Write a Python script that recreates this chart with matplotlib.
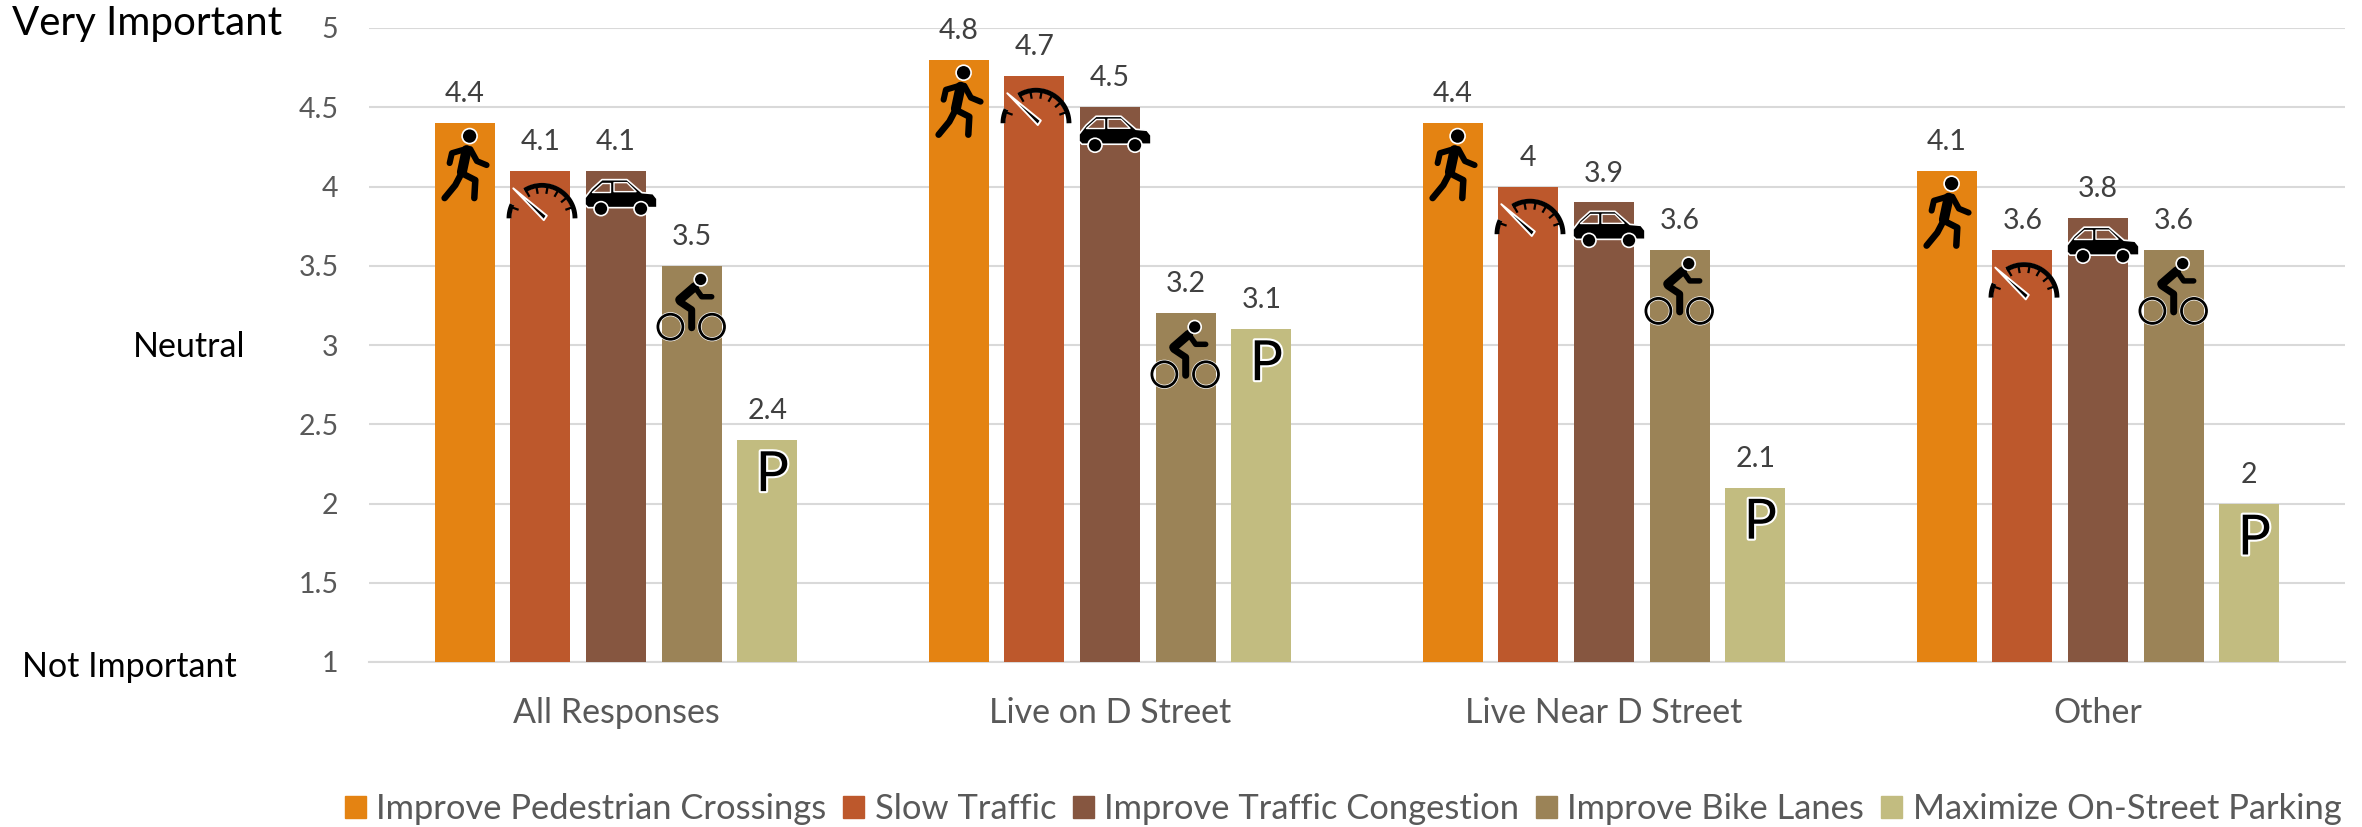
import numpy as np
import matplotlib
matplotlib.use('Agg')
import matplotlib.pyplot as plt
import matplotlib.patheffects as pe
from matplotlib.patches import Ellipse, Patch, Polygon

categories = ['All Responses', 'Live on D Street', 'Live Near D Street', 'Other']
series_names = ['Improve Pedestrian Crossings', 'Slow Traffic', 'Improve Traffic Congestion',
                'Improve Bike Lanes', 'Maximize On-Street Parking']
pedestrian = [4.4, 4.8, 4.4, 4.1]
slow_traffic = [4.1, 4.7, 4.0, 3.6]
congestion = [4.1, 4.5, 3.9, 3.8]
bike_lanes = [3.5, 3.2, 3.6, 3.6]
parking = [2.4, 3.1, 2.1, 2.0]
series = [pedestrian, slow_traffic, congestion, bike_lanes, parking]
colors = ['#E48312', '#BD582C', '#865640', '#9B8357', '#C2BC80']
yticks = [1, 1.5, 2, 2.5, 3, 3.5, 4, 4.5, 5]
yticklabels = ['1', '1.5', '2', '2.5', '3', '3.5', '4', '4.5', '5']

W, H = 2362, 827
plt.rcParams['font.family'] = ['Lato', 'DejaVu Sans']

fig = plt.figure(figsize=(W / 100, H / 100), dpi=100)
ax = fig.add_axes([369 / W, 1 - 662 / H, 1976 / W, 634 / H])

# size of one pixel in data units, the icons are drawn in pixels from the bar top
PX = 4 / 1976
PY = 4 / 634
STEP = 75.7 * PX
BAR_W = 60 * PX
OUTLINE = [pe.withStroke(linewidth=3.0, foreground='white')]


def line(xc, top, pts, lw):
    pts = np.array(pts, dtype=float)
    ax.plot(xc + pts[:, 0] * PX, top - pts[:, 1] * PY, color='black', lw=lw * 0.72,
            solid_capstyle='round', solid_joinstyle='round', zorder=5, path_effects=OUTLINE)


def circle(xc, top, cx, cy, r, fill='black', edge='white', lw=1.2, effects=None):
    ax.add_patch(Ellipse((xc + cx * PX, top - cy * PY), 2 * r * PX, 2 * r * PY, facecolor=fill,
                         edgecolor=edge, lw=lw, zorder=6, path_effects=effects))


def poly(xc, top, pts, fill='black', edge='white', lw=1.2):
    pts = np.array(pts, dtype=float)
    xy = np.column_stack([xc + pts[:, 0] * PX, top - pts[:, 1] * PY])
    ax.add_patch(Polygon(xy, closed=True, facecolor=fill, edgecolor=edge, lw=lw, zorder=6,
                         joinstyle='round'))


def walker(xc, top, color):
    circle(xc, top, 5, 13, 7.5)
    line(xc, top, [(-15, 40), (-12.7, 30), (1, 26), (5.7, 26), (12.3, 38), (22, 42)], 6)
    line(xc, top, [(2, 27), (-2.7, 49)], 10)
    line(xc, top, [(-20, 75), (-9.3, 62), (-3, 50), (10.7, 57), (9.7, 75)], 6.5)


def gauge(xc, top, color):
    cx, cy, r = 1.7, 47.7, 33
    for a0, a1 in [(0, 122), (155, 180)]:
        t = np.deg2rad(np.linspace(a0, a1, 40))
        ax.plot(xc + (cx + r * np.cos(t)) * PX, top - (cy - r * np.sin(t)) * PY, color='black',
                lw=3.5, solid_capstyle='butt', zorder=5, path_effects=OUTLINE)
    for a in [20, 40, 60, 80, 100, 120, 160]:
        t = np.deg2rad(a)
        ax.plot(xc + (cx + np.array([r, r - 7]) * np.cos(t)) * PX,
                top - (cy - np.array([r, r - 7]) * np.sin(t)) * PY, color='black', lw=1.6, zorder=5)
    poly(xc, top, [(-27, 17.7), (6.5, 45), (3.5, 49.5)], lw=1.4)


def car(xc, top, color):
    poly(xc, top, [(-31, 27), (-24, 18), (-14, 9), (11, 9), (26, 22), (37, 23), (41, 28),
                   (41, 37), (-28, 37), (-31, 34)])
    poly(xc, top, [(-24, 21), (-6, 21), (-6, 12), (-14, 12)], fill=color, lw=1)
    poly(xc, top, [(-2, 12), (11, 12), (20, 21), (-2, 21)], fill=color, lw=1)
    circle(xc, top, -15, 38, 7)
    circle(xc, top, 25, 38, 7)


def cyclist(xc, top, color):
    circle(xc, top, 9, 13.7, 6.5)
    for wx in (-21.3, 20.3):
        circle(xc, top, wx, 61, 12.5, fill='none', edge='black', lw=2, effects=OUTLINE)
    line(xc, top, [(3, 21), (10, 31), (20, 31)], 5.5)
    line(xc, top, [(-12, 34), (3, 21)], 9)
    line(xc, top, [(-12, 36), (0, 44), (0, 62)], 7)


def parking_sign(xc, top, color):
    ax.annotate('P', (xc, top), xytext=(5, -51), textcoords='offset pixels', ha='center',
                va='baseline', fontsize=40, color='black', zorder=6,
                path_effects=OUTLINE)


icons = [walker, gauge, car, cyclist, parking_sign]

for c in range(len(categories)):
    for s in range(len(series)):
        x = c + (s - 2) * STEP
        v = series[s][c]
        ax.bar(x, v - 1, bottom=1, width=BAR_W, color=colors[s], zorder=3)
        ax.annotate(f'{v:g}', (x, v), xytext=(0, 15), textcoords='offset points', ha='center',
                    va='baseline', fontsize=20.5, color='#404040', zorder=7)
        icons[s](x, v, colors[s])

ax.set_xlim(-0.5, 3.5)
ax.set_ylim(1, 5)
ax.set_yticks(yticks)
ax.set_yticklabels(yticklabels, fontsize=20.5, color='#595959')
ax.set_xticks(range(len(categories)))
ax.set_xticklabels(categories, fontsize=24.5, color='#595959')
ax.tick_params(axis='both', length=0)
ax.tick_params(axis='y', pad=22)
ax.tick_params(axis='x', pad=25)
ax.grid(axis='y', color='#D9D9D9', lw=1.5, zorder=0)
ax.set_axisbelow(True)
for side in ['top', 'right', 'left']:
    ax.spines[side].set_visible(False)
ax.spines['bottom'].set_color('#D9D9D9')
ax.spines['bottom'].set_linewidth(1.5)

# scale words on the left
fig.text(12 / W, 1 - 23 / H, 'Very Important', fontsize=29, color='black', va='center')
fig.text(245 / W, 1 - 347 / H, 'Neutral', fontsize=24.5, color='black', va='center', ha='right')
fig.text(22 / W, 1 - 667 / H, 'Not Important', fontsize=24.5, color='black', va='center')

handles = [Patch(color=col) for col in colors]
fig.legend(handles, series_names, ncol=5, fontsize=24.8, labelcolor='#595959', frameon=False,
           loc='center', bbox_to_anchor=(1343 / W, 1 - 809 / H), handlelength=0.61,
           handleheight=0.61, handletextpad=0.3, columnspacing=0.49, borderpad=0, borderaxespad=0)

plt.savefig('out.png', dpi=100)
